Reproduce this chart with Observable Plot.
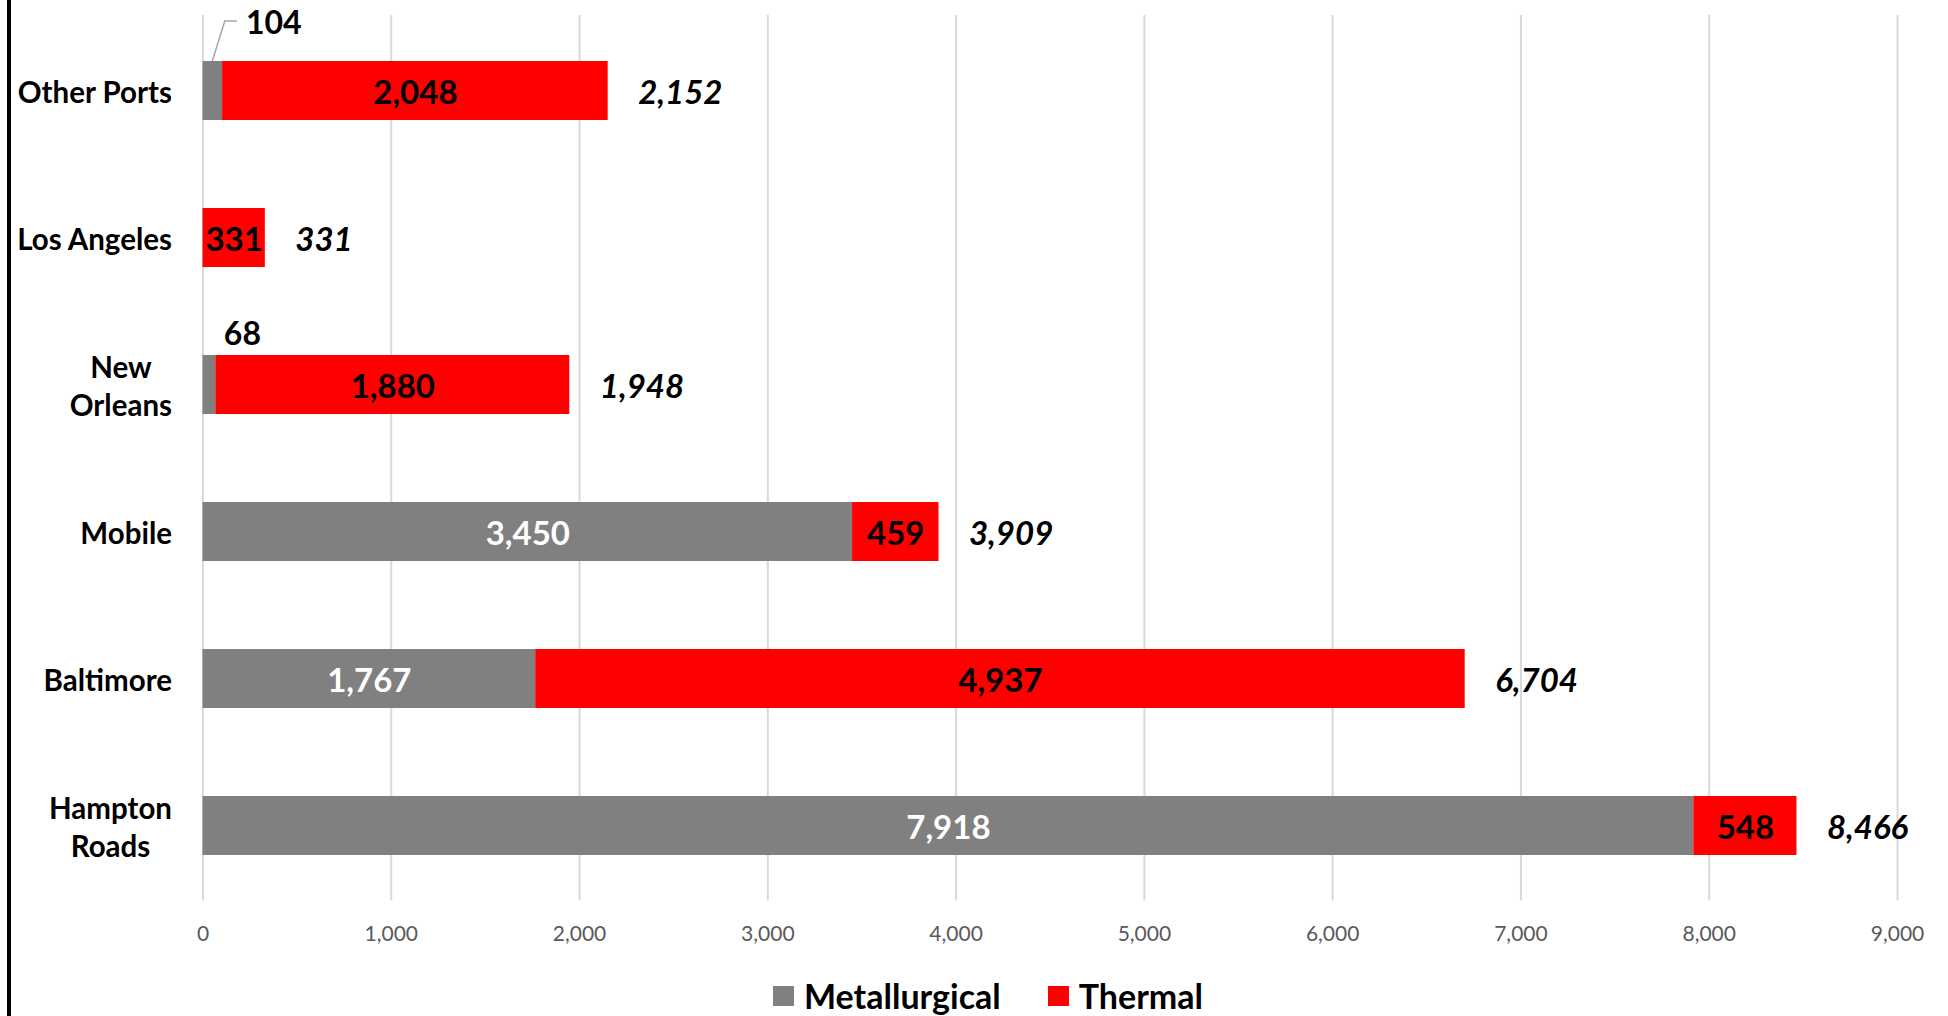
<!DOCTYPE html>
<html><head><meta charset="utf-8">
<script src="https://cdn.jsdelivr.net/npm/d3@7"></script>
<script src="https://cdn.jsdelivr.net/npm/@observablehq/plot@0.6"></script>
<style>
html,body{margin:0;padding:0;background:#fff;}
#frame{position:relative;width:1948px;height:1016px;overflow:hidden;background:#fff;}
#border{position:absolute;left:7px;top:0;width:4px;height:1016px;background:#000;}
#chart{position:absolute;left:11px;top:0;}
#legend{position:absolute;left:773px;top:977px;height:38px;line-height:1;display:flex;align-items:center;font-family:Lato,sans-serif;font-weight:bold;font-size:34px;color:#000;white-space:nowrap;}
#legend .sw{width:21px;height:20px;display:inline-block;margin-right:10px;}
#legend .item{display:flex;align-items:center;margin-right:47px;}
</style></head><body>
<div id="frame"><div id="chart"></div><div id="legend"></div><div id="border"></div></div>
<script>
// ---- data ----
const ports = ["Other Ports", "Los Angeles", "New Orleans", "Mobile", "Baltimore", "Hampton Roads"];
const portLabels = ["Other Ports", "Los Angeles", "New\nOrleans", "Mobile", "Baltimore", "Hampton\nRoads"];
const metallurgical = [104, 0, 68, 3450, 1767, 7918];
const thermal = [2048, 331, 1880, 459, 4937, 548];
const seriesNames = ["Metallurgical", "Thermal"];
const seriesColors = ["#808080", "#ff0000"];
const xTicks = [0, 1000, 2000, 3000, 4000, 5000, 6000, 7000, 8000, 9000];

// ---- tables built from the arrays ----
const rows = [];
ports.forEach((p, i) => {
  rows.push({port: p, series: seriesNames[0], value: metallurgical[i]});
  rows.push({port: p, series: seriesNames[1], value: thermal[i]});
});
const totals = ports.map((p, i) => ({port: p, total: metallurgical[i] + thermal[i]}));
const labelOf = Object.fromEntries(ports.map((p, i) => [p, portLabels[i]]));
const fmt = d3.format(",");
const FONT = "Lato";

// leader line for the small "Other Ports" metallurgical label, positioned through the scales
function leaderLine(index, scales) {
  const xs = scales.x, ys = scales.y;
  const xm = xs(metallurgical[0] / 2);
  const top = ys(ports[0]);
  return d3.create("svg:path")
    .attr("d", `M${xm},${top} L${xm + 12.5},${top - 40} L${xm + 24.5},${top - 40}`)
    .attr("fill", "none").attr("stroke", "#a6a6a6").attr("stroke-width", 1.5)
    .node();
}

const chart = Plot.plot({
  width: 1937,
  height: 960,
  marginLeft: 191.5,
  marginRight: 51,
  marginTop: 15,
  marginBottom: 59.4,
  style: {fontFamily: FONT, background: "transparent"},
  x: {domain: [0, 9000], label: null},
  y: {domain: ports, paddingInner: 0.6, paddingOuter: 0.3, label: null},
  color: {domain: seriesNames, range: seriesColors},
  marks: [
    Plot.gridX({ticks: xTicks, stroke: "#d9d9d9", strokeOpacity: 1, strokeWidth: 2}),
    Plot.axisX({ticks: xTicks, tickFormat: fmt, tickSize: 0, tickPadding: 25, fontSize: 21, fill: "#595959", label: null, fontFamily: FONT}),
    Plot.axisY({tickSize: 0, tickPadding: 31, tickFormat: d => labelOf[d], fontSize: 29.5, fontWeight: "bold", fill: "#000", lineHeight: 1.3, label: null, fontFamily: FONT}),
    Plot.barX(rows, Plot.stackX({x: "value", y: "port", fill: "series"})),
    // metallurgical labels inside the gray bars (white)
    Plot.text(rows, Plot.stackX({x: "value", y: "port",
      text: d => (d.series === seriesNames[0] && d.value >= 1000) ? fmt(d.value) : null,
      fill: "#fff", fontSize: 33, fontWeight: "bold", fontFamily: FONT, dy: 2})),
    // thermal labels inside the red bars (black)
    Plot.text(rows, Plot.stackX({x: "value", y: "port",
      text: d => (d.series === seriesNames[1]) ? fmt(d.value) : null,
      fill: "#000", fontSize: 33, fontWeight: "bold", fontFamily: FONT, dy: 2})),
    // small metallurgical label: Other Ports
    Plot.text(rows, Plot.stackX({x: "value", y: "port",
      text: d => (d.series === seriesNames[0] && d.port === ports[0]) ? fmt(d.value) : null,
      fill: "#000", fontSize: 32, fontWeight: "bold", fontFamily: FONT, dx: 61, dy: -67})),
    // small metallurgical label: New Orleans
    Plot.text(rows, Plot.stackX({x: "value", y: "port",
      text: d => (d.series === seriesNames[0] && d.port === ports[2]) ? fmt(d.value) : null,
      fill: "#000", fontSize: 32, fontWeight: "bold", fontFamily: FONT, dx: 33, dy: -50})),
    leaderLine,
    // totals
    Plot.text(totals, {x: "total", y: "port", text: d => fmt(d.total), textAnchor: "start", dx: 30, dy: 2,
      fill: "#000", fontSize: 33, fontWeight: "bold", fontStyle: "italic", fontFamily: FONT})
  ]
});
document.getElementById("chart").appendChild(chart);

// center multi-line category labels on their widest line
d3.select(chart).selectAll('g[aria-label="y-axis tick label"] text').each(function () {
  const tsp = this.querySelectorAll("tspan");
  if (tsp.length > 1) {
    let maxW = 0;
    tsp.forEach(t => { maxW = Math.max(maxW, t.getComputedTextLength()); });
    this.setAttribute("text-anchor", "middle");
    tsp.forEach(t => t.setAttribute("x", -maxW / 2));
  }
});

// legend
const legend = d3.select("#legend");
seriesNames.forEach((s, i) => {
  const item = legend.append("div").attr("class", "item");
  item.append("span").attr("class", "sw").style("background", seriesColors[i]);
  item.append("span").text(s);
});
</script>
</body></html>
